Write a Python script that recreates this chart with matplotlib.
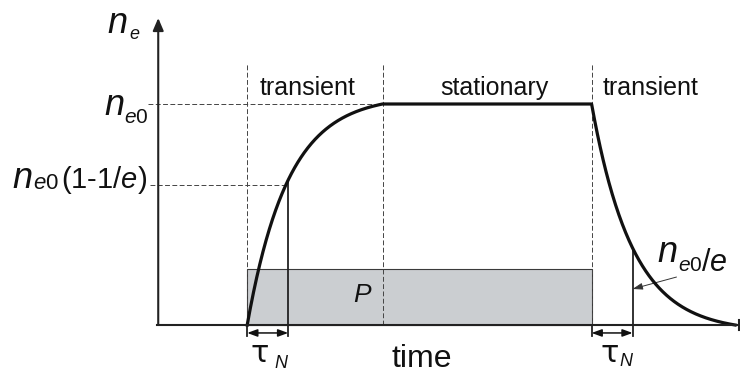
import numpy as np
import matplotlib
matplotlib.use('Agg')
import matplotlib.pyplot as plt
import matplotlib.transforms as mtransforms
from matplotlib.patches import Rectangle

plt.rcParams['font.family'] = ['Liberation Sans', 'DejaVu Sans']
plt.rcParams['mathtext.fontset'] = 'custom'
plt.rcParams['mathtext.rm'] = 'Liberation Sans'
plt.rcParams['mathtext.it'] = 'Liberation Sans:italic'

# time in units of tau_N, electron density in units of n_e0
tau_N = 1.0
n_e0 = 1.0
t_on, t_flat, t_off, t_zero = 2.2, 5.5, 10.6, 14.1
phase_edges = [t_on, t_flat, t_off]
phase_labels = ['transient', 'stationary', 'transient']
pulse_level = 0.253   # height of the pump box P

fig = plt.figure(figsize=(7.4, 3.74), dpi=100)
ax = fig.add_axes([0, 0, 1, 1])
ax.set_xlim(-157 / 41, 583 / 41)
ax.set_ylim(-49 / 221, 325 / 221)
ax.axis('off')

# pixel transform for the labels (origin top-left)
pix = mtransforms.Affine2D().scale(0.01, -0.01).translate(0, 3.74) + fig.dpi_scale_trans


def put(x, y, s, size, **kw):
    fig.text(x, y, s, fontsize=size, transform=pix, ha='left', va='baseline',
             color='#111111', **kw)


# n_e(t): rise, plateau, decay
T_rise = t_flat - t_on
T_fall = t_zero - t_off
s = np.linspace(0, T_rise, 300)
rise = n_e0 * (1 - np.exp(-s / tau_N)) / (1 - np.exp(-T_rise / tau_N))
u = np.linspace(0, T_fall, 300)
fall = n_e0 * (np.exp(-u / tau_N) - np.exp(-T_fall / tau_N)) / (1 - np.exp(-T_fall / tau_N))
t = np.concatenate([t_on + s, t_off + u])
n = np.concatenate([rise, fall])
ax.plot(t, n, color='#111111', lw=2.3, solid_joinstyle='round', zorder=5)

# pump pulse
ax.add_patch(Rectangle((t_on, 0), t_off - t_on, pulse_level, fc='#cbced1',
                       ec='#3a3a3a', lw=0.8, zorder=1))

# phase boundaries and reference levels
dash = dict(color='#444444', lw=0.7, ls=(0, (5, 2.5)), zorder=2)
for tb in phase_edges:
    ax.plot([tb, tb], [0, 1.18], **dash)
ax.plot([-0.22, t_flat], [n_e0, n_e0], **dash)
n_1e = n_e0 * (1 - 1 / np.e)
ax.plot([-0.17, t_on + tau_N], [n_1e, n_1e], **dash)

# tau_N markers
t1 = t_on + tau_N
t2 = t_off + tau_N
n_t1 = np.interp(t1, t_on + s, rise)
n_t2 = np.interp(t2, t_off + u, fall)
ax.plot([t1, t1], [-0.05, n_t1], color='#222222', lw=1.3, zorder=4)
ax.plot([t2, t2], [-0.05, n_t2], color='#222222', lw=1.3, zorder=4)
for tb in (t_on, t_off):
    ax.plot([tb, tb], [-0.05, 0], color='#222222', lw=1.3, zorder=4)
for ta, tb in ((t_on, t1), (t_off, t2)):
    ax.annotate('', xy=(ta, -0.036), xytext=(tb, -0.036),
                arrowprops=dict(arrowstyle='<|-|>,head_length=0.6,head_width=0.22',
                                color='#111111', lw=1.1, shrinkA=0, shrinkB=0))

# arrow pointing at n_e0/e
ax.annotate('', xy=(t2, 0.163), xytext=(t2 + 1.07, 0.217),
            arrowprops=dict(arrowstyle='-|>,head_length=0.6,head_width=0.2',
                            color='#333333', lw=0.7, shrinkA=0, shrinkB=0))

# axes
ax.plot([0, 14.2], [0, 0], color='#222222', lw=1.5, zorder=6)
ax.plot([14.19, 14.19], [-0.023, 0.023], color='#222222', lw=1.5, zorder=6)
ax.annotate('', xy=(0.03, 307 / 221), xytext=(0.03, 0),
            arrowprops=dict(arrowstyle='-|>,head_length=0.75,head_width=0.32',
                            color='#222222', lw=1.5, shrinkA=0, shrinkB=0))

# labels
put(107, 33, '$n$', 26)
put(129, 39, '$e$', 13)
put(104, 115, '$n$', 26)
put(124, 123, '$e$0', 15)
put(12, 188, '$n$', 26)
put(33, 189, '$e$0', 16)
put(61, 188, '(1-1/$e$)', 21)
put(657, 262, '$n$', 26)
put(678, 271, '$e$0', 15)
put(701, 271, '/$e$', 22)
for x0, lab in zip((260, 440, 603), phase_labels):
    put(x0, 95, lab, 18)
put(353, 302, '$P$', 19)
put(391, 367, 'time', 23)
put(251, 362, 'τ', 22, family='DejaVu Sans')
put(274, 368, '$N$', 13)
put(600, 362, 'τ', 22, family='DejaVu Sans')
put(619, 366, '$N$', 13)

fig.savefig('out.png', dpi=100)
